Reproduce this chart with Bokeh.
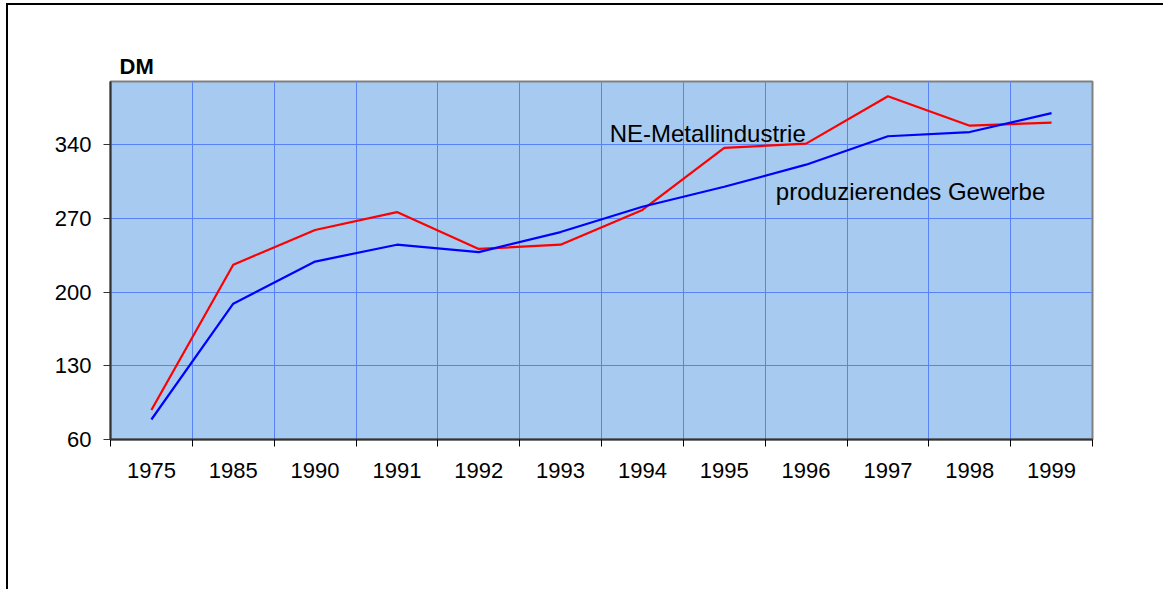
from bokeh.plotting import figure
from bokeh.models import Range1d, FixedTicker, Label, ColumnDataSource
from bokeh.embed import file_html
from bokeh.resources import INLINE

years = ["1975", "1985", "1990", "1991", "1992", "1993", "1994", "1995", "1996", "1997", "1998", "1999"]
ne_metall = [88, 226, 259, 276, 241, 245, 278, 337, 341, 386, 358, 361]
prod_gewerbe = [79, 189, 229, 245, 238, 257, 281, 300, 321, 348, 352, 370]
y_ticks = [60, 130, 200, 270, 340]

idx = list(range(len(years)))
src = ColumnDataSource(dict(x=idx, ne=ne_metall, pg=prod_gewerbe))

FONT = "Liberation Sans"
GRID = "#5A82F8"

p = figure(width=1157, height=586, output_backend="svg", toolbar_location=None,
           x_range=Range1d(-0.5, len(years) - 0.5), y_range=Range1d(60, 400),
           min_border_left=102, min_border_right=73, min_border_top=76, min_border_bottom=152,
           title="DM")
p.styles = {"border-left": "2px solid black", "border-top": "2px solid black",
            "margin-left": "6px", "margin-top": "3px"}

p.background_fill_color = "#A6CAF0"
p.border_fill_color = "white"
p.outline_line_color = "#808080"
p.outline_line_width = 2

p.title.text_font = FONT
p.title.text_font_size = "22px"
p.title.text_font_style = "bold"
p.title.text_color = "black"
p.title.align = "left"
p.title.offset = 9
p.title.standoff = 6

# x axis
p.xaxis.ticker = FixedTicker(ticks=idx, minor_ticks=[i - 0.5 for i in range(len(years) + 1)])
p.xaxis.major_label_overrides = {i: y for i, y in zip(idx, years)}
p.xaxis.major_tick_out = 0
p.xaxis.major_tick_in = 0
p.xaxis.minor_tick_out = 7
p.xaxis.minor_tick_in = 0
p.xaxis.minor_tick_line_color = "black"
p.xaxis.major_label_standoff = 16
p.xaxis.axis_line_color = "#333333"
p.xaxis.axis_line_width = 2

# y axis
p.yaxis.ticker = FixedTicker(ticks=y_ticks, minor_ticks=[])
p.yaxis.major_tick_out = 7
p.yaxis.major_tick_in = 0
p.yaxis.major_tick_line_color = "#333333"
p.yaxis.major_label_standoff = 12
p.yaxis.axis_line_color = "#333333"
p.yaxis.axis_line_width = 2

for ax in (p.xaxis, p.yaxis):
    ax.major_label_text_font = FONT
    ax.major_label_text_font_size = "22px"
    ax.major_label_text_color = "black"

p.xgrid.grid_line_color = None
p.xgrid.minor_grid_line_color = GRID
p.xgrid.minor_grid_line_width = 1
p.ygrid.grid_line_color = GRID
p.ygrid.grid_line_width = 1

p.line("x", "ne", source=src, line_color="#FF0000", line_width=2.2)
p.line("x", "pg", source=src, line_color="#0000FF", line_width=2.2)

p.add_layout(Label(x=5.6, y=350.5, text="NE-Metallindustrie", text_font=FONT,
                   text_font_size="24px", text_color="black", text_baseline="alphabetic"))
p.add_layout(Label(x=7.63, y=296, text="produzierendes Gewerbe", text_font=FONT,
                   text_font_size="24px", text_color="black", text_baseline="alphabetic"))

open("out.html", "w").write(file_html(p, INLINE))
